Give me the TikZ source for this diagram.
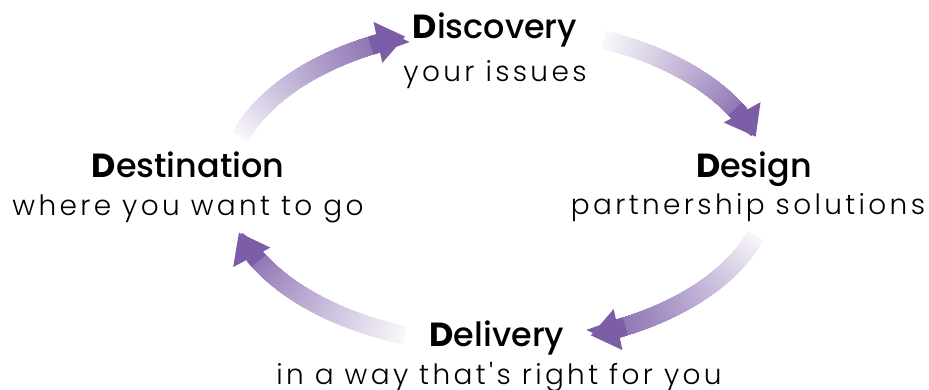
\documentclass[tikz,border=0pt]{standalone}
\usepackage{fontspec}
\setmainfont{Poppins}[UprightFont=* Medium, BoldFont=* Bold]
\newfontfamily\thinfont{Poppins Light}[LetterSpace=12]
\usepackage{tikz}
\usetikzlibrary{arrows.meta}
\definecolor{loopviolet}{RGB}{124,94,168}

\begin{document}
\begin{tikzpicture}[>=Stealth, font=\fontsize{9.5}{11}\selectfont,
    sub/.style={font=\thinfont\fontsize{7.95}{9}\selectfont}]
    \useasboundingbox (0,0) rectangle (9.29,3.9);
    \coordinate (c) at (4.98,2.04);

    % Arrows around the loop, fading in towards the head
    \foreach \s/\e/\h in {162/110/6, 67/18/9, -18/-70/6, 250/197/9} {
        \pgfmathsetmacro{\b}{\e+\h}
        \foreach \i in {0,...,59} {
            \pgfmathsetmacro{\from}{\s+(\b-\s)*\i/60}
            \pgfmathsetmacro{\p}{5+82*\i/59}
            \draw[loopviolet!\p!white, line width=0.18cm] (c) ++(\from:2.71 and 1.59)
                arc[start angle=\from, end angle=\b, x radius=2.71, y radius=1.59];
        }
        \pgfmathsetmacro{\a}{\b+2}
        \draw[loopviolet, line width=0.18cm, -{Triangle[length=0.28cm 0 0, width=0.40cm 0 0]}]
            (c) ++(\a:2.71 and 1.59) arc[start angle=\a, end angle=\e, x radius=2.71, y radius=1.59];
    }

    % Steps
    \node[anchor=base] (disc) at (4.95, 3.51) {\textbf{D}iscovery};
    \node[anchor=base, sub] (disc-sub) at (4.95, 3.08) {your issues};
    \node[anchor=base] (design) at (7.54, 2.12) {\textbf{D}esign};
    \node[anchor=base, sub] (design-sub) at (7.48, 1.75) {partnership solutions};
    \node[anchor=base] (deliv) at (4.97, 0.43) {\textbf{D}elivery};
    \node[anchor=base, sub] (deliv-sub) at (4.99, 0.05) {in a way that's right for you};
    \node[anchor=base] (dest) at (1.88, 2.12) {\textbf{D}estination};
    \node[anchor=base, sub] (dest-sub) at (1.88, 1.74) {where you want to go};
\end{tikzpicture}
\end{document}
